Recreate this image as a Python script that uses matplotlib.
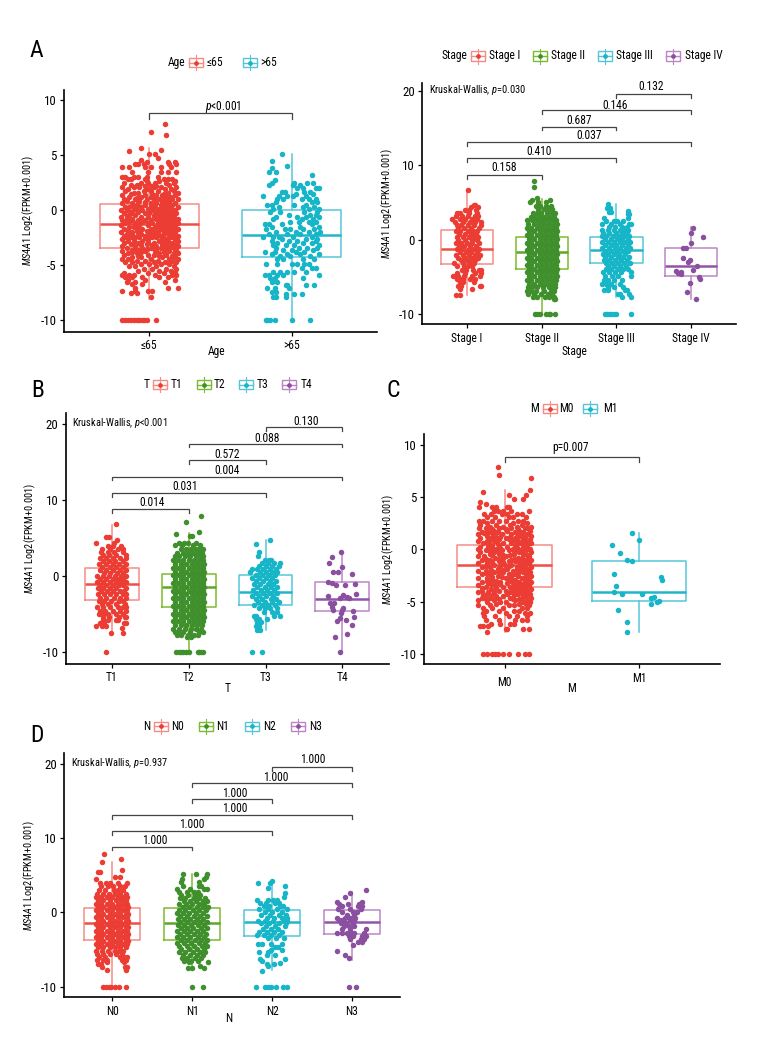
import matplotlib
matplotlib.use("Agg")
import matplotlib.pyplot as plt
from matplotlib import font_manager
from matplotlib.lines import Line2D
from matplotlib.patches import Rectangle
from matplotlib.transforms import ScaledTranslation

W, H = 780, 1056
have = {f.name for f in font_manager.fontManager.ttflist}
FONT = "Liberation Sans"
for name in ["Liberation Sans Narrow", "Roboto Condensed", "Open Sans Condensed", "Noto Sans Condensed"]:
    if name in have:
        FONT = name
        break
plt.rcParams["font.family"] = [FONT, "DejaVu Sans"]
plt.rcParams["mathtext.fontset"] = "custom"
plt.rcParams["mathtext.rm"] = FONT
plt.rcParams["mathtext.it"] = FONT + ":italic"
FS = 8.3

# colours: point, box outline, median
RED = ("#EC3D35", "#F58D85", "#EE4F46")
GREEN = ("#3F8F2C", "#7DBB2E", "#5FA52A")
TEAL = ("#16B5C8", "#55C6D8", "#22B5C8")
PURPLE = ("#8B4FA0", "#BC86C6", "#8F55A6")

# each row: y value, jitter offsets of the points read at about that height
age_le65 = [(7.85,[.11]),(7.1,[.01]),(6.78,[.12]),(5.65,[-.06]),(5.45,[.08]),(5.33,[-.14]),(5.12,[0,.04]),(4.75,[.06]),(4.6,[-.06]),
 (4.35,[-.02,.13,.18]),(4.15,[-.1,-.08,-.04,.14,.19]),(3.9,[-.19,-.14,-.03,.01,.08,.15]),(3.5,[-.12,-.01,.08,.13,.19]),
 (3.05,[-.19,-.17,-.11,-.08,-.02,.06]),(2.8,[-.15,-.13,-.03,.1,.13,.16]),(2.62,[-.02,.07,.18]),(2.45,[-.18,-.06,-.01,.04,.12,.17]),
 (2.27,[-.13,-.09,.14]),(2.1,[-.19,-.11,-.07,.03,.08,.19]),(1.92,[-.15,-.02,.11,.15]),(1.75,[-.17,-.04,.01,.06,.17]),(1.58,[-.11,-.08,.13,.2]),
 (1.4,[-.19,-.03,.05,.09,.18]),(1.22,[-.14,-.06,.01,.12,.15]),(1.0,[-.18,-.1,-.02,.03,.07,.16,.2]),(.83,[-.16,-.07,.1,.14]),
 (.65,[-.19,-.12,.01,.05,.18]),(.47,[-.09,-.03,.08,.12,.16]),(.3,[-.17,-.14,-.06,.04,.2]),(.14,[-.11,-.01,.07,.1,.15]),
 (0,[-.2,-.16,-.05,.02,.12,.18]),(-.16,[-.13,-.08,.05,.09,.16]),(-.3,[-.18,-.03,0,.13,.19]),(-.46,[-.14,-.1,.03,.07,.11]),
 (-.6,[-.2,-.06,-.01,.15,.17]),(-.76,[-.16,-.12,.05,.09,.13,.2]),(-.9,[-.19,-.08,-.03,.01,.11,.15]),(-1.05,[-.14,-.05,.07,.18]),
 (-1.2,[-.17,-.1,.02,.06,.12,.14,.2]),(-1.36,[-.2,-.07,-.01,.09,.16,.18]),(-1.5,[-.14,-.11,.04,.13,.17]),(-1.68,[-.18,-.05,.01,.08,.2]),
 (-1.85,[-.15,-.09,-.02,.12,.16]),(-2,[-.2,-.12,.04,.06,.18]),(-2.15,[-.16,-.06,0,.1,.14]),(-2.3,[-.18,-.09,-.03,.08,.2]),
 (-2.45,[-.13,-.07,.02,.05,.16]),(-2.62,[-.19,-.11,-.01,.11,.18]),(-2.8,[-.15,-.05,.07,.13,.2]),(-2.95,[-.18,-.08,.03,.16]),
 (-3.1,[-.13,-.02,.09,.19]),(-3.25,[-.19,-.1,.05,.13,.2]),(-3.4,[-.16,-.05,.01,.08,.17]),(-3.58,[-.12,-.08,.11,.19]),
 (-3.75,[-.19,-.03,.04,.14]),(-3.9,[-.15,-.09,.07,.17,.2]),(-4.05,[-.18,-.01,.03,.12]),(-4.22,[-.12,-.06,.09,.18]),(-4.4,[-.19,-.15,.01,.14,.2]),
 (-4.58,[-.09,-.03,.06,.16]),(-4.75,[-.17,-.12,.03,.11,.19]),(-4.92,[-.06,0,.08,.14]),(-5.1,[-.14,-.1,.05,.17]),(-5.3,[-.04,.02,.12,.19]),
 (-5.5,[-.08,.07,.15]),(-5.7,[-.18,-.01,.1,.18]),(-5.85,[-.19,-.14,-.11,.04,.16,.19]),(-6.1,[-.17,-.12,-.05,.07,.13]),(-6.3,[-.15,-.03,.18]),(-6.5,[-.16,-.1,.11]),
 (-6.7,[-.12,-.05]),(-7.05,[.13,.2,-.1]),(-7.3,[-.19,-.1,.02,-.01]),(-7.55,[-.13,-.09]),(-7.85,[.01]),(-10,[-.19,-.17,-.15,-.13,-.11,-.09,-.07,-.05,-.04,-.02,.05])]
# more points where the cloud is solid
age_le65_core = [(2.2,[-.03,.01,.05]),(1.5,[-.13,.02,.1]),(1.1,[-.09,.1,.13]),(.7,[-.08,-.03,.09,.14]),(.36,[-.11,.01,.1,.14]),(.05,[-.09,.07,.15]),(-.25,[-.12,.07,.11,.16]),
 (-.55,[-.16,.03,.09,.13]),(-.85,[-.12,.07,.18]),(-1.12,[-.09,-.01,.1,.16]),(-1.42,[-.11,.07,.12]),(-1.6,[-.09,.07,.11,.16]),(-1.95,[-.07,.02,.1,.14]),(-2.22,[-.12,.03,.07,.17]),
 (-2.52,[-.16,-.03,.09,.13]),(-2.85,[-.11,-.01,.1]),(-3.18,[-.06,.02,.11,.16]),(-3.5,[-.1,-.02,.05,.14]),(-3.82,[-.12,-.06,.1]),(-4.15,[-.08,.07,.16])]
age_gt65 = [(5.1,[-.07]),(4.45,[-.14]),(4.0,[-.03]),(3.8,[-.14]),(3.45,[-.16,-.11]),(3.18,[.14]),(2.7,[-.12]),(2.5,[-.14,.02,.11,.15]),
 (2.25,[-.16,.01,.06]),(2.05,[.04,.08,.17,.19]),(1.65,[-.07,-.05,.09,.13]),(1.45,[.03,.15]),(1.3,[-.2,-.09,-.03,.01,.1]),(1.0,[-.1,-.06,.07,.12,.17]),
 (.72,[-.11,.14,.18]),(.5,[-.17,-.14,.02,.1]),(.28,[-.09,.08,.16]),(.08,[-.13,.19,.12]),(-.15,[-.15,-.08,.09,.18]),(-.42,[.13,-.02,.17]),(-.6,[-.11,.04,.1,.19]),
 (-.82,[-.13,.15,.07]),(-1.05,[-.01,.05,.12,.17]),(-1.3,[-.19,-.16,-.07,.14]),(-1.55,[-.14,.06,.19]),(-1.75,[-.18,-.05,-.01,.08,.16]),(-1.95,[-.11,.03,.12,.2]),
 (-2.15,[-.16,-.03,.17,.06]),(-2.4,[-.2,-.13,-.09,.01,.14]),(-2.6,[-.07,.1,.18]),(-2.8,[-.14,-.02,.04,.17]),(-3,[-.1,.08,.14]),(-3.2,[-.13,-.04,.02,.19]),
 (-3.4,[-.11,.05,.11,.18]),(-3.6,[-.06,0,.15]),(-3.8,[-.19,-.12,.03,.09]),(-4,[-.14,-.03,.06,.19]),(-4.2,[-.08,-.01,.13]),(-4.45,[-.1,-.06,.08,.16]),(-4.9,[-.18,-.1,0,.04,.09,.12]),
 (-5.25,[.07,.14,.17]),(-5.6,[-.13,-.08,-.03,.02,.1]),(-5.85,[-.19,-.16,-.1,-.06,.19]),(-6.2,[-.12,-.15,.08]),(-6.5,[-.14,-.1]),(-6.8,[-.03,-.04,.1,.16]),
 (-7.05,[-.17,-.12,-.02]),(-7.4,[-.14,-.11]),(-7.65,[.02,.07,-.04]),(-7.9,[-.11,-.13,-.04]),(-10,[-.18,-.17,-.15,-.12,0,.13])]

stage1 = [(6.73,[.01]),(4.7,[.09,.1]),(4.4,[.05,.14]),(4.0,[-.03,.03,.12]),(3.6,[-.13,-.1,.02,.13]),(3.2,[-.15,-.07,.01,.1,.15]),
 (2.8,[-.2,-.1,-.03,.07,.13]),(2.4,[-.16,-.05,.04,.1,.18]),(2.0,[-.14,-.08,.01,.09,.18]),(1.6,[-.12,-.04,.05,.16]),(1.2,[-.15,-.09,.01,.08,.13]),
 (.8,[-.11,-.03,.05,.12]),(.4,[-.14,-.06,.02,.09,.15]),(0,[-.12,-.03,.06,.13]),(-.4,[-.15,-.08,0,.07,.16]),(-.8,[-.11,-.04,.04,.12]),
 (-1.2,[-.14,-.07,.02,.09,.16]),(-1.6,[-.1,-.02,.05,.13]),(-2,[-.15,-.06,.02,.1,.17]),(-2.4,[-.12,-.03,.07,.14]),(-2.8,[-.08,0,.04,.11]),
 (-3.2,[-.17,-.05,.03,.09]),(-3.6,[-.13,-.04,.01,.07]),(-4.1,[-.07,-.01,.08,.16,.19]),(-4.5,[-.14,-.03,.1,.18]),(-4.9,[-.19,-.16,-.12,-.04,.06,.17]),
 (-5.3,[-.13,-.09,-.06,.04,.11]),(-5.7,[-.1,-.06,.09]),(-6.2,[-.12,-.08,.17,.19]),(-6.7,[-.1,.07]),(-7.5,[-.15,-.09])]
stage2 = [(7.9,[-.11]),(7.1,[-.11]),(5.6,[-.06]),(5.4,[-.13,.11]),(5.05,[-.16,-.05,.05]),(4.5,[-.08,-.02,.06,.12]),(4.1,[-.05,.03,.09,.14]),
 (3.6,[-.12,-.07,-.01,.07,.13,.17]),(3.1,[-.15,-.1,-.04,.03,.1,.16]),(2.6,[-.2,-.13,-.07,0,.07,.13,.19]),(2.1,[-.18,-.11,-.04,.03,.1,.16,.2]),
 (1.6,[-.2,-.14,-.07,0,.07,.14,.19]),(1.1,[-.17,-.1,-.03,.04,.11,.17,.2]),(.6,[-.2,-.14,-.07,0,.07,.14,.19]),(.1,[-.17,-.1,-.03,.04,.11,.17,.2]),
 (-.4,[-.2,-.14,-.07,0,.07,.14,.19]),(-.9,[-.17,-.1,-.03,.04,.11,.17,.2]),(-1.4,[-.2,-.14,-.07,0,.07,.14,.19]),(-1.9,[-.17,-.1,-.03,.04,.11,.17,.2]),
 (-2.4,[-.2,-.14,-.07,0,.07,.14,.19]),(-2.9,[-.17,-.1,-.03,.04,.11,.17,.2]),(-3.4,[-.2,-.14,-.07,0,.07,.14,.19]),(-3.9,[-.17,-.1,-.03,.04,.11,.17,.2]),
 (-4.4,[-.2,-.14,-.07,0,.07,.14,.19]),(-4.9,[-.17,-.1,-.03,.04,.11,.17,.2]),(-5.4,[-.2,-.14,-.07,0,.07,.14,.19]),(-5.9,[-.17,-.1,-.03,.04,.11,.17]),
 (-6.4,[-.19,-.13,-.06,.02,.09,.15,.18]),(-6.9,[-.2,-.15,-.08,.03,.12,.16]),(-7.3,[-.19,-.11,-.01,.08,.14]),(-7.7,[-.12,-.06,.04,.1,.16]),(-7.95,[.16,.17]),
 (-10,[-.09,-.06,-.03,.06,.09,.11,.18])]
stage3 = [(4.8,[-.11]),(4.2,[-.13,-.09]),(3.9,[.16]),(3.7,[-.1,-.07]),(3.4,[.15,.17]),(2.9,[-.17,.16]),(2.5,[-.14,-.03,.01,.09]),(2.1,[-.2,-.07,.05,.17,.19]),
 (1.7,[-.1,-.02,.08,.14]),(1.3,[-.2,-.12,-.03,.05,.11,.16]),(.9,[-.18,-.1,-.01,.07,.14]),(.5,[-.2,-.14,-.05,.03,.1,.17]),(.1,[-.16,-.08,.01,.08,.15]),
 (-.3,[-.19,-.11,-.03,.05,.12,.18]),(-.7,[-.15,-.07,0,.08,.16]),(-1.1,[-.19,-.1,-.02,.05,.13,.18]),(-1.5,[-.16,-.08,.01,.09,.15]),(-1.9,[-.18,-.12,-.04,.04,.12]),
 (-2.3,[-.15,-.07,.02,.09,.17]),(-2.7,[-.17,-.1,-.02,.06,.14]),(-3.1,[-.14,-.06,.02,.1,.18]),(-3.5,[-.11,-.03,.05,.13]),(-3.9,[-.14,-.07,.02,.09,.16]),
 (-4.4,[-.18,-.1,-.02,.06,.19]),(-4.9,[-.16,-.06,.02,.19]),(-5.4,[-.17,-.12,-.03,.08]),(-5.9,[-.2,-.14,-.08,.05]),(-6.3,[-.12,-.03,.09]),(-6.8,[-.17,-.11,.12,.14]),
 (-7.3,[.02,.05,.17]),(-7.7,[.07,.19]),(-10,[-.16,-.13,-.1,-.07,-.04,-.01,.19])]
stage4_x = [.02,0,.16,0,-.11,-.07,-.11,-.01,-.04,.08,.02,-.2,-.17,-.13,-.14,.1,.12,-.02,-.05,.07]
stage4_y = [1.57,.9,.36,-.45,-1.12,-1.08,-2.42,-2.69,-2.96,-3.54,-4.13,-4.26,-4.44,-4.57,-4.3,-5.07,-5.29,-5.83,-7,-7.94]

t1 = [(6.85,[.05]),(5.2,[-.07,-.04]),(4.7,[.07]),(4.35,[-.2,.03]),(3.95,[-.05,.02,.12]),(3.6,[-.13,-.02,.08,.14]),(3.2,[-.14,-.05,.03,.15]),(2.8,[-.12,-.04,.06,.18]),
 (2.4,[-.15,-.08,.01,.11,.19]),(2,[-.12,-.04,.04,.14]),(1.6,[-.17,-.08,.01,.09,.18]),(1.2,[-.13,-.03,.06,.15]),(.8,[-.15,-.07,.02,.11,.19]),(.4,[-.1,-.03,.07,.15]),
 (0,[-.19,-.12,-.04,.04,.12,.18]),(-.4,[-.16,-.08,.01,.08,.15]),(-.8,[-.19,-.11,-.03,.05,.12,.18]),(-1.2,[-.15,-.07,.02,.09,.15]),(-1.6,[-.18,-.11,-.03,.06,.19]),
 (-2,[-.14,-.06,.02,.1,.16]),(-2.4,[-.18,-.1,-.03,.06,.14,.19]),(-2.8,[-.15,-.07,.03,.11,.18]),(-3.2,[-.17,-.1,-.01,.09,.15]),(-3.6,[-.13,-.05,.06,.17]),
 (-4.1,[-.19,-.12,-.03,.08,.14,.19]),(-4.6,[-.16,-.09,.02,.11,.18]),(-5,[-.17,-.1,-.05,.06,.15]),(-5.4,[-.12,-.04,.09,.17,.19]),(-5.8,[-.11,-.05,.05,.08]),
 (-6.2,[-.15,-.1,.16,.19]),(-6.5,[-.2,-.13,-.07]),(-6.8,[.13]),(-7.5,[-.01,.14]),(-10,[-.07])]
t2 = [(7.9,[.16]),(7.15,[-.04]),(5.75,[.13]),(5.5,[-.17]),(5.3,[.04,.02]),(4.4,[-.12,-.06,-.01,.1]),(4.05,[-.18,-.09,.05,.15]),(3.6,[-.1,-.03,.03,.09,.14,.18]),
 (3.1,[-.15,-.08,-.01,.06,.12,.17]),(2.6,[-.18,-.12,-.05,.02,.09,.16,.19]),(2.1,[-.2,-.14,-.07,0,.07,.14,.19]),(1.6,[-.18,-.1,-.03,.04,.11,.17,.2]),
 (1.1,[-.2,-.14,-.07,0,.07,.14,.19]),(.6,[-.18,-.1,-.03,.04,.11,.17,.2]),(.1,[-.2,-.14,-.07,0,.07,.14,.19]),(-.4,[-.18,-.1,-.03,.04,.11,.17,.2]),
 (-.9,[-.2,-.14,-.07,0,.07,.14,.19]),(-1.4,[-.18,-.1,-.03,.04,.11,.17,.2]),(-1.9,[-.2,-.14,-.07,0,.07,.14,.19]),(-2.4,[-.18,-.1,-.03,.04,.11,.17,.2]),
 (-2.9,[-.2,-.14,-.07,0,.07,.14,.19]),(-3.4,[-.18,-.1,-.03,.04,.11,.17,.2]),(-3.9,[-.2,-.14,-.07,0,.07,.14,.19]),(-4.4,[-.18,-.1,-.03,.04,.11,.17,.2]),
 (-4.9,[-.2,-.14,-.07,0,.07,.14,.19]),(-5.4,[-.18,-.1,-.03,.04,.11,.17,.2]),(-5.9,[-.2,-.14,-.07,0,.07,.14,.19]),(-6.4,[-.18,-.1,-.03,.04,.11,.17]),
 (-6.9,[-.2,-.12,-.05,.03,.09,.16]),(-7.3,[-.18,-.13,-.07,.02,.14,.18]),(-7.7,[-.15,-.1,-.01,.07,.12]),(-7.95,[-.02,.03]),
 (-10,[-.16,-.13,-.1,-.07,-.03,.01,.12,.14,.16,.19])]
t3 = [(4.8,[.06]),(4.2,[-.12]),(3.25,[-.08]),(2.7,[-.1]),(2.1,[-.01,.04,.07]),(1.7,[-.05,.03,.11,.19]),(1.3,[-.09,.01,.08,.17]),(1,[-.18,-.11,-.03,.06,.13]),
 (.6,[-.2,-.07,0,.09,.15]),(.2,[-.13,-.04,.05,.12]),(-.2,[-.17,-.09,.01,.09]),(-.6,[-.12,-.03,.06,.13]),(-1,[-.15,-.07,.03,.1]),(-1.4,[-.11,-.01,.07,.15]),
 (-1.8,[-.16,-.06,.02,.11]),(-2.2,[-.12,-.03,.06,.15]),(-2.6,[-.17,-.08,.01,.1]),(-3,[-.13,-.04,.07,.13]),(-3.4,[-.1,-.01,.09,.17]),(-3.8,[-.15,-.05,.03,.12]),
 (-4.2,[-.09,-.01,.06,.15]),(-4.7,[-.02,.09,.15]),(-5.2,[-.15,-.12,.11,.19]),(-5.6,[-.13,-.09,.02]),(-6,[-.11,-.06]),(-6.5,[-.12,-.08]),(-7.05,[-.11,-.07]),(-10,[-.17,-.04])]
t4_x = [-.02,-.14,-.17,0,-.12,-.06,.13,-.19,-.14,.16,.03,-.08,.18,-.19,.01,.06,-.03,.08,-.16,-.11,-.13,-.12,.01,-.01,.14,-.02,.15,-.03,.05,-.07,.12,.06,-.09,-.03]
t4_y = [3.16,2.54,1.8,1.18,.57,.53,.35,-.79,-.83,-1,-1.1,-1.14,-2.37,-2.59,-2.5,-2.68,-2.85,-2.8,-3.46,-3.55,-4.08,-4.43,-4.2,-4.43,-4.52,-4.87,-5.3,-5.5,-5.75,-5.83,-6.4,-7.63,-7.94,-10]

m0 = [(7.9,[-.05]),(7.15,[-.04]),(6.85,[.2]),(5.7,[.19]),(5.45,[-.16]),(5.15,[.03,.16]),(4.8,[.07,.14]),(4.5,[-.18]),(4.3,[-.14]),(4.05,[-.19,-.09,-.06,.03,.02]),
 (3.7,[-.08,-.05,-.01,.05,.18]),(3.4,[-.15,-.1,-.02,.02,.09,.13]),(3.05,[-.13,-.07,.03,.06,.16]),(2.7,[-.19,-.16,-.09,-.04,.01,.1,.14]),(2.5,[-.13,.06,.17]),(2.35,[-.18,-.06,.04,.13]),
 (2.15,[-.11,-.01,.09,.2]),(2,[-.19,-.14,-.04,.05,.15,.17]),(1.8,[-.08,.02,.11,.19]),(1.65,[-.17,-.12,-.05,.08,.14]),(1.45,[-.2,-.02,.05,.17]),(1.3,[-.13,-.07,.12,.2]),(1.12,[-.18,-.1,.01,.08]),
 (.95,[-.04,.03,.14,.19]),(.78,[-.2,-.13,-.07,.1,.16]),(.6,[-.16,-.01,.05,.12,.2]),(.42,[-.09,-.04,.08,.17]),(.25,[-.18,-.12,.02,.14]),(.08,[-.2,-.06,.06,.1,.19]),
 (-.1,[-.14,-.02,.03,.16]),(-.28,[-.18,-.08,.11,.2]),(-.45,[-.11,-.04,.07,.14]),(-.62,[-.2,-.15,.01,.18]),(-.8,[-.07,-.01,.1,.13]),(-.98,[-.17,-.11,.05,.2]),
 (-1.15,[-.04,.03,.08,.16]),(-1.32,[-.2,-.13,.12,.18]),(-1.5,[-.08,0,.05,.15]),(-1.68,[-.17,-.11,.09,.2]),(-1.85,[-.05,.02,.13,.17]),(-2.02,[-.2,-.14,.06,.1]),
 (-2.2,[-.08,-.01,.14,.19]),(-2.38,[-.17,-.11,.03,.07]),(-2.55,[-.05,.1,.16,.2]),(-2.72,[-.2,-.13,.01,.13]),(-2.9,[-.09,.05,.08,.18]),(-3.08,[-.17,-.03,.11,.2]),
 (-3.25,[-.12,.02,.06,.15]),(-3.42,[-.2,-.07,.09,.18]),(-3.6,[-.14,-.01,.04,.13]),(-3.78,[-.1,.08,.2,.16]),(-3.95,[-.17,-.04,.01,.11]),(-4.12,[-.2,-.08,.06,.14]),
 (-4.3,[-.13,.02,.1,.19]),(-4.48,[-.06,-.01,.16]),(-4.65,[-.17,-.11,.04,.13,.2]),(-4.82,[-.2,-.08,.08,.17]),(-5,[-.13,-.03,.01,.14,.19]),(-5.18,[-.06,.11,.16]),
 (-5.35,[-.2,-.11,.03,.07,.18]),(-5.6,[-.16,-.09,-.01,.13,.17]),(-5.85,[-.14,-.04,.07,.11]),(-6.05,[-.16,.01,.15,.19]),
 (-6.4,[-.15,-.07,.03,.09,.17]),(-6.75,[-.14,-.04,.08,.13,.17]),(-7.1,[-.1,-.03,.07,.04]),(-7.35,[-.18,-.16,-.12]),(-7.65,[.14,.18,.01,.02]),(-7.9,[-.13]),
 (-10,[-.16,-.13,-.09,-.07,-.05,-.01,.03,.1,.15,.18])]
# more points where the cloud is solid
m0_core = [(1.9,[-.09,.01,.1]),(1.55,[-.15,-.09,.09]),(1.2,[-.03,.04,.09,.15]),(.88,[-.11,-.08,.07]),(.52,[-.12,-.05,.09,.15]),(.17,[-.09,-.03,.09,.17]),(-.2,[-.11,-.05,.07,.13]),
 (-.55,[-.09,-.01,.04,.17]),(-.9,[-.14,-.04,.07,.17]),(-1.25,[-.09,-.01,.11,.15]),(-1.6,[-.14,-.03,.03,.12]),(-1.95,[-.1,-.01,.09,.15]),(-2.3,[-.14,-.04,.1,.17]),(-2.65,[-.09,-.02,.05,.17]),
 (-3,[-.13,-.06,.03,.15]),(-3.35,[-.1,-.03,.12,.16]),(-3.7,[-.17,-.06,.06,.11]),(-4.05,[-.12,.04,.09,.17]),(-4.4,[-.16,-.09,.07,.14]),(-4.75,[-.14,-.04,.06,.11])]

n0 = [(7.9,[-.1]),(7.15,[.11]),(6.8,[-.13]),(5.75,[.12]),(5.4,[-.18,-.15]),(4.7,[.1,.03]),(4.5,[-.2]),(4,[.19,-.15,-.08,-.03,.07]),(3.5,[-.14,-.05,.01,.1,.16]),
 (3,[-.17,-.09,.02,.07,.14]),(2.5,[-.19,-.12,-.04,.04,.1,.17]),(2.05,[-.2,-.14,-.07,0,.07,.13,.19]),(1.6,[-.18,-.11,-.03,.05,.11,.17]),(1.15,[-.2,-.14,-.07,0,.07,.13,.19]),
 (.7,[-.18,-.11,-.03,.04,.1,.17,.2]),(.25,[-.2,-.14,-.07,0,.07,.13,.19]),(-.2,[-.18,-.11,-.03,.04,.1,.17,.2]),(-.65,[-.2,-.14,-.07,0,.07,.13,.19]),
 (-1.1,[-.18,-.11,-.03,.04,.1,.17,.2]),(-1.55,[-.2,-.14,-.07,0,.07,.13,.19]),(-2,[-.18,-.11,-.03,.04,.1,.17,.2]),(-2.45,[-.2,-.14,-.07,0,.07,.13,.19]),
 (-2.9,[-.18,-.11,-.03,.04,.1,.17,.2]),(-3.35,[-.2,-.14,-.07,0,.07,.13,.19]),(-3.8,[-.18,-.11,-.03,.04,.1,.17,.2]),(-4.25,[-.2,-.14,-.07,0,.07,.13,.19]),
 (-4.7,[-.18,-.11,-.03,.04,.1,.17]),(-5.15,[-.2,-.13,-.05,.03,.09,.14]),(-5.6,[-.19,-.11,-.03,.05,.12]),(-6,[-.17,-.09,.1,.15,.18]),(-6.4,[-.19,-.12,-.06,.12,.17]),
 (-6.7,[-.06,.15]),(-7,[-.18,-.14]),(-7.4,[-.13,.16,.18]),(-7.7,[-.07,.17]),(-10,[-.11,-.08,-.04,-.01,.03,.08,.17])]
n1 = [(5.2,[-.12,.05,.18]),(4.8,[.17]),(4.5,[-.13,.15]),(4.1,[.09,-.14]),(3.6,[-.12,.08,.11]),(3.1,[-.19,-.03,.15,.18]),(2.7,[-.16,-.07,.02,.07]),(2.3,[-.14,-.05,.03,.1]),
 (1.9,[-.15,-.09,.02,.08,.16]),(1.5,[-.1,-.03,.05,.13,.19]),(1.1,[-.17,-.08,0,.09,.15]),(.7,[-.12,-.04,.06,.13,.2]),(.3,[-.16,-.09,.01,.08,.17]),(-.1,[-.19,-.11,-.04,.05,.13]),
 (-.5,[-.15,-.07,.02,.1,.19]),(-.9,[-.18,-.1,-.03,.06,.14]),(-1.3,[-.15,-.06,.02,.1,.19]),(-1.7,[-.18,-.1,-.02,.07,.15]),(-2.1,[-.14,-.07,.01,.11,.18]),
 (-2.5,[-.19,-.1,-.03,.06,.14]),(-2.9,[-.15,-.07,.02,.1,.17]),(-3.3,[-.19,-.11,-.03,.07,.15]),(-3.7,[-.14,-.06,.03,.11,.18]),(-4.1,[-.19,-.1,-.01,.08,.16]),
 (-4.5,[-.16,-.07,.02,.12,.18]),(-4.9,[-.14,-.04,.06,.15]),(-5.3,[-.17,-.09,.01,.1,.16]),(-5.7,[-.12,-.03,.06,.13]),(-6.1,[-.13,-.06,.04,.11]),(-6.5,[-.1,-.02,.07]),
 (-6.7,[.2,-.04]),(-7.2,[.1]),(-7.5,[-.05,0,.15]),(-10,[0,.13])]
n2 = [(4.2,[0]),(3.95,[-.18,-.03]),(3.5,[.16]),(3.3,[-.05]),(2.6,[.16]),(2.05,[.15]),(1.6,[-.19,-.05,.01,.06]),(1.25,[-.15,-.08,.03,.09]),(.85,[-.1,-.04,.1,.14]),(.5,[-.17,-.05,.06,.19]),
 (.1,[-.09,0,.12]),(-.3,[-.14,-.03,.08,.17]),(-.7,[-.07,.02,.12,.19]),(-1.1,[-.18,-.09,.01,.15,.18]),(-1.5,[-.14,-.04,.09,.17]),(-1.9,[-.08,.03,.16]),(-2.3,[-.12,-.01,.07]),
 (-2.7,[-.16,-.06,.02,.12]),(-3.1,[-.19,-.1,-.02,.09]),(-3.5,[-.05,.05,.15]),(-4.2,[-.18,-.13,-.01,.12]),(-4.6,[.07,.03]),(-5,[-.02,.12]),(-5.3,[-.17,-.05]),(-5.8,[-.07,.04]),
 (-6.3,[.16,-.15]),(-6.6,[-.13]),(-7,[.02,-.06]),(-7.2,[-.05]),(-6.8,[.1]),(-7.85,[-.13]),(-10,[-.2,-.09,-.05,-.02,.05,.14,.19])]
n3 = [(3,[.17]),(2.65,[-.02]),(2.1,[-.09]),(1.35,[-.19,.13]),(1.1,[-.16,-.05,.09]),(.8,[-.13,.07,.12]),(.4,[-.17,-.02,.11]),(.1,[-.12,.01,.06]),(-.3,[-.06,.03]),(-.7,[-.19,-.09,-.02,.04]),
 (-1,[-.16,-.12,-.03,.02]),(-1.4,[-.14,-.07,.01]),(-1.8,[-.1,-.04,.03]),(-2.2,[-.12,.18,-.02]),(-2.8,[-.19,-.13,-.06,-.01,.03,.15]),(-3.2,[-.04,.01,.13,.17]),(-3.6,[-.02,.11,.15]),
 (-4,[.08,.13]),(-4.45,[.01]),(-5.2,[-.19]),(-5.8,[-.09]),(-6.2,[-.04]),(-10,[-.04,.05])]
m1_x = [-.2,-.14,-.05,0,-.09,-.05,-.19,.16,.17,-.17,-.19,-.13,.02,.11,.09,.15,.13,.09,-.16,-.09,-.09]
m1_y = [.41,-.38,1.59,.89,-1.05,-1.08,-2.36,-2.64,-2.96,-3.5,-4.1,-4.27,-4.27,-4.55,-4.68,-4.97,-5.06,-5.22,-5.76,-6.91,-7.9]

# box stats: q1, median, q3, whisker low, whisker high
age_box = [(-3.39,-1.24,.6,-8.1,5.6),(-4.24,-2.24,0,-10,5.1)]
stage_box = [(-3.23,-1.3,1.26,-7.5,6.8),(-4,-1.6,.4,-10,5.5),(-3.2,-1.4,.3,-7.7,4.75),(-4.9,-3.5,-1.08,-7.95,1.7)]
t_box = [(-3.07,-1.05,1.14,-7.5,6.75),(-4,-1.45,.35,-10,5.65),(-3.73,-2.06,.22,-7.06,4.78),(-4.6,-2.94,-.8,-10,3.25)]
m_box = [(-3.6,-1.5,.45,-7.87,5.67),(-4.97,-4.08,-1.08,-7.87,1.6)]
n_box = [(-3.72,-1.48,.63,-10,6.8),(-3.68,-1.43,.54,-7.5,5.2),(-3.18,-1.35,.27,-7.7,4.2),(-2.9,-1.26,.31,-6.37,2.8)]

# comparison brackets: group a, group b, height; then label text, label x, label y
stage_pairs = [(1,2,8.7),(1,3,10.94),(1,4,13.1),(2,3,15.2),(2,4,17.4),(3,4,19.55)]
stage_text = [("0.158",1.49,9.69),("0.410",1.96,11.8),("0.037",2.63,13.95),("0.687",2.5,16.05),("0.146",2.98,18.03),("0.132",3.46,20.54)]
t_pairs = [(1,2,8.8),(1,3,10.96),(1,4,13.1),(2,3,15.3),(2,4,17.45),(3,4,19.6)]
t_text = [("0.014",1.52,9.69),("0.031",1.96,11.84),("0.004",2.5,13.9),("0.572",2.5,15.96),("0.088",3.02,18.11),("0.130",3.53,20.39)]
n_pairs = [(1,2,8.85),(1,3,10.95),(1,4,13.1),(2,3,15.2),(2,4,17.4),(3,4,19.55)]
n_text = [("1.000",1.53,9.73),("1.000",2.0,11.84),("1.000",2.53,13.99),("1.000",2.53,16.05),("1.000",3.05,18.16),("1.000",3.51,20.54)]


def unrow(rows):
    xs, ys = [], []
    for y, offs in rows:
        for o in offs:
            xs.append(o)
            ys.append(y)
    return xs, ys


def fx(px):
    return px / W


def fy(py):
    return 1 - py / H


fig = plt.figure(figsize=(W / 100, H / 100), dpi=100, facecolor="white")


def panel(rect, ylim, yticks, names, xlabel, label_at, groups, boxes, colors):
    left, right, top, bottom = rect
    ax = fig.add_axes([fx(left), fy(bottom), (right - left) / W, (bottom - top) / H])
    n = len(names)
    for i in range(n):
        col = colors[i]
        q1, med, q3, lo, hi = boxes[i]
        stats = [{"q1": q1, "med": med, "q3": q3, "whislo": lo, "whishi": hi}]
        ax.bxp(stats, positions=[i + 1], widths=0.7, showfliers=False, showcaps=False, manage_ticks=False,
               boxprops={"color": col[1], "linewidth": 1.1},
               whiskerprops={"color": col[1], "linewidth": 1.1},
               medianprops={"color": col[2], "linewidth": 1.8, "solid_capstyle": "butt"}, zorder=2)
        xs, ys = groups[i]
        ax.scatter([i + 1 + o for o in xs], ys, s=15.5, color=col[0], linewidths=0, zorder=3)
    ax.set_xlim(0.4, n + 0.6)
    ax.set_ylim(*ylim)
    ax.set_xticks(range(1, n + 1))
    ax.set_xticklabels(names, fontsize=FS)
    ax.set_yticks(yticks)
    ax.set_yticklabels([str(t) for t in yticks], fontsize=FS + 1)
    ax.tick_params(length=2.8, width=0.9, pad=2.5)
    ax.spines["top"].set_visible(False)
    ax.spines["right"].set_visible(False)
    ax.spines["left"].set_linewidth(1.2)
    ax.spines["bottom"].set_linewidth(1.2)
    ax.set_xlabel(xlabel, fontsize=FS, va="center")
    ax.xaxis.set_label_coords(fx(label_at[0]), fy(label_at[1]), transform=fig.transFigure)
    ax.set_ylabel(r"$\mathit{MS4A1}$ Log2(FPKM+0.001)", fontsize=FS - 0.9, labelpad=3)
    return ax


def bracket(ax, a, b, y, tip=0.5):
    ax.plot([a, a, b, b], [y - tip, y, y, y - tip], color="#444444", lw=0.9, zorder=4, solid_joinstyle="miter")


def legend(title, y, boxes, labels, colors):
    fig.text(fx(boxes[0][0] - 4), fy(y), title, fontsize=FS, va="center", ha="right")
    for (x0, lab_x), lab, col in zip(boxes, labels, colors):
        fig.add_artist(Rectangle((fx(x0), fy(y + 4.5)), 14 / W, 9 / H, fill=False, edgecolor=col[1], linewidth=1, transform=fig.transFigure))
        xc = x0 + 7
        fig.add_artist(Line2D([fx(xc), fx(xc)], [fy(y - 7.5), fy(y + 7.5)], color=col[1], lw=0.8, transform=fig.transFigure, zorder=1))
        fig.add_artist(Line2D([fx(x0), fx(x0 + 14)], [fy(y), fy(y)], color=col[1], lw=1, transform=fig.transFigure))
        fig.add_artist(Line2D([fx(xc)], [fy(y)], marker="o", ms=3.4, mew=0, color=col[0], transform=fig.transFigure))
        fig.text(fx(lab_x), fy(y), lab, fontsize=FS, va="center", ha="left")


# A left
ax = panel((64, 377, 90, 332), (-11.06, 10.91), [-10, -5, 0, 5, 10], ["≤65", ">65"], "Age", (216.7, 351.7),
           [unrow(age_le65 + age_le65_core), unrow(age_gt65)], age_box, [RED, TEAL])
bracket(ax, 1, 2, 8.8, 0.53)
ax.text(1.52, 9.4, r"$\mathit{p}$<0.001", fontsize=FS, ha="center", va="center")

# A right
ax = panel((422.3, 736, 83.3, 324.3), (-11.38, 21.03), [-10, 0, 10, 20], ["Stage I", "Stage II", "Stage III", "Stage IV"], "Stage", (574, 351.7),
           [unrow(stage1), unrow(stage2), unrow(stage3), (stage4_x, stage4_y)], stage_box, [RED, GREEN, TEAL, PURPLE])
for a, b, y in stage_pairs:
    bracket(ax, a, b, y)
for s, x, y in stage_text:
    ax.text(x, y, s, fontsize=FS, ha="center", va="center", zorder=5)
ax.text(0.49, 20.17, r"Kruskal-Wallis, $\mathit{p}$=0.030", fontsize=FS - 0.8, ha="left", va="center")

# B
ax = panel((65.7, 388.5, 412.7, 663.7), (-11.5, 21.5), [-10, 0, 10, 20], ["T1", "T2", "T3", "T4"], "T", (228, 689),
           [unrow(t1), unrow(t2), unrow(t3), (t4_x, t4_y)], t_box, [RED, GREEN, TEAL, PURPLE])
for a, b, y in t_pairs:
    bracket(ax, a, b, y)
for s, x, y in t_text:
    ax.text(x, y, s, fontsize=FS, ha="center", va="center", zorder=5)
ax.text(0.48, 20.2, r"Kruskal-Wallis, $\mathit{p}$<0.001", fontsize=FS - 0.8, ha="left", va="center")

# C
ax = panel((423.7, 720, 434, 664.3), (-10.98, 11.02), [-10, -5, 0, 5, 10], ["M0", "M1"], "M", (571, 689),
           [unrow(m0 + m0_core), (m1_x, m1_y)], m_box, [RED, TEAL])
bracket(ax, 1, 2, 8.85, 0.55)
ax.text(1.49, 9.7, "p=0.007", fontsize=FS, ha="center", va="center")
# M0 sits a little lower than M1 in the reference
lbl = ax.get_xticklabels()[0]
lbl.set_transform(lbl.get_transform() + ScaledTranslation(0, -4 / 100, fig.dpi_scale_trans))

# D
ax = panel((64.3, 400, 753.3, 997.3), (-11.43, 21.4), [-10, 0, 10, 20], ["N0", "N1", "N2", "N3"], "N", (228.3, 1018.7),
           [unrow(n0), unrow(n1), unrow(n2), unrow(n3)], n_box, [RED, GREEN, TEAL, PURPLE])
for a, b, y in n_pairs:
    bracket(ax, a, b, y)
for s, x, y in n_text:
    ax.text(x, y, s, fontsize=FS, ha="center", va="center", zorder=5)
ax.text(0.49, 20.1, r"Kruskal-Wallis, $\mathit{p}$=0.937", fontsize=FS - 0.8, ha="left", va="center")

# legends
legend("Age", 62.7, [(189.3, 207), (242.7, 260)], ["≤65", ">65"], [RED, TEAL])
legend("Stage", 56, [(471.3, 488.7), (533.3, 550.7), (598.3, 615.7), (666, 685)],
       ["Stage I", "Stage II", "Stage III", "Stage IV"], [RED, GREEN, TEAL, PURPLE])
legend("T", 384.7, [(153.3, 170.7), (196.7, 214), (239.3, 256.7), (282, 301)], ["T1", "T2", "T3", "T4"], [RED, GREEN, TEAL, PURPLE])
legend("M", 408.7, [(543.3, 559), (583.3, 602.7)], ["M0", "M1"], [RED, TEAL])
legend("N", 726, [(154, 170.7), (199.3, 216), (245.3, 263.3), (291.3, 309.3)], ["N0", "N1", "N2", "N3"], [RED, GREEN, TEAL, PURPLE])

# panel letters
for letter, x, y in [("A", 30, 50.7), ("B", 31, 390), ("C", 387, 390), ("D", 30, 736)]:
    fig.text(fx(x), fy(y), letter, fontsize=17, va="center", ha="left")

fig.savefig("out.png", dpi=100)
